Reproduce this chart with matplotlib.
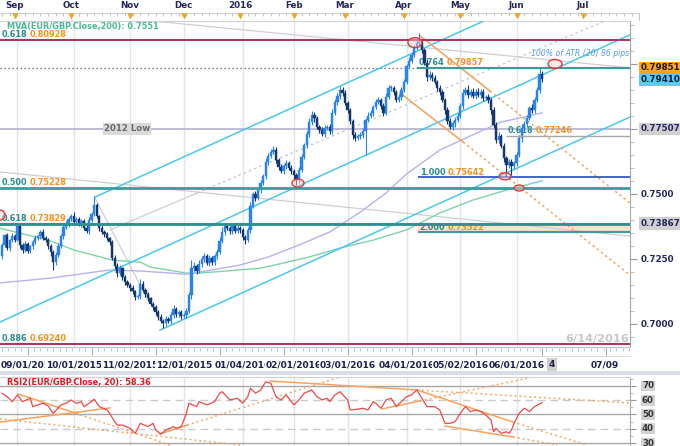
import matplotlib
matplotlib.use("Agg")
import matplotlib.pyplot as plt
from matplotlib.patches import Ellipse, Rectangle
from matplotlib.ticker import MultipleLocator, NullFormatter

plt.rcParams['font.family'] = ['DejaVu Sans']

# ---------------- data (daily EUR/GBP) ----------------
first_open = 0.7262
closes = [
    0.7304, 0.7342, 0.7292, 0.7323, 0.7338, 0.7323, 0.7377, 0.7304, 0.7285, 0.7308,
    0.7281, 0.7300, 0.7315, 0.7331, 0.7338, 0.7354, 0.7331, 0.7323, 0.7300, 0.7277,
    0.7238, 0.7265, 0.7300, 0.7338, 0.7373, 0.7385, 0.7404, 0.7415, 0.7392, 0.7404,
    0.7385, 0.7396, 0.7369, 0.7358, 0.7400, 0.7423, 0.7458, 0.7415, 0.7369, 0.7354,
    0.7346, 0.7331, 0.7315, 0.7254, 0.7223, 0.7196, 0.7215, 0.7181, 0.7162, 0.7150,
    0.7138, 0.7127, 0.7104, 0.7108, 0.7154, 0.7131, 0.7115, 0.7100, 0.7077, 0.7065,
    0.7046, 0.7027, 0.7012, 0.7004, 0.7019, 0.7012, 0.7035, 0.7058, 0.7038, 0.7046,
    0.7031, 0.7035, 0.7050, 0.7112, 0.7215, 0.7223, 0.7204, 0.7231, 0.7250, 0.7262,
    0.7235, 0.7254, 0.7238, 0.7262, 0.7277, 0.7319, 0.7354, 0.7377, 0.7369, 0.7358,
    0.7377, 0.7358, 0.7369, 0.7362, 0.7335, 0.7323, 0.7362, 0.7454, 0.7500, 0.7485,
    0.7515, 0.7542, 0.7569, 0.7623, 0.7646, 0.7662, 0.7669, 0.7631, 0.7604, 0.7588,
    0.7608, 0.7619, 0.7600, 0.7588, 0.7573, 0.7554, 0.7592, 0.7642, 0.7688, 0.7731,
    0.7777, 0.7804, 0.7792, 0.7758, 0.7746, 0.7731, 0.7754, 0.7758, 0.7742, 0.7812,
    0.7854, 0.7877, 0.7900, 0.7888, 0.7850, 0.7823, 0.7781, 0.7727, 0.7715, 0.7723,
    0.7727, 0.7742, 0.7785, 0.7800, 0.7812, 0.7835, 0.7854, 0.7862, 0.7838, 0.7812,
    0.7873, 0.7908, 0.7908, 0.7892, 0.7862, 0.7873, 0.7900, 0.7931, 0.7992, 0.8012,
    0.8035, 0.8062, 0.8081, 0.8085, 0.8054, 0.8004, 0.7950, 0.7958, 0.7946, 0.7931,
    0.7908, 0.7892, 0.7862, 0.7823, 0.7781, 0.7758, 0.7773, 0.7785, 0.7800, 0.7838,
    0.7888, 0.7900, 0.7881, 0.7892, 0.7877, 0.7892, 0.7881, 0.7892, 0.7869, 0.7873,
    0.7862, 0.7823, 0.7765, 0.7708, 0.7723, 0.7685, 0.7638, 0.7612, 0.7623, 0.7608,
    0.7619, 0.7650, 0.7715, 0.7754, 0.7769, 0.7792, 0.7831, 0.7823, 0.7862, 0.7900,
    0.7962, 0.7941,
]
wick_up_pips = [
    8, 6, 10, 5, 12, 7, 11, 9, 6, 10, 8, 5, 7, 12, 6, 9, 10, 7, 8, 6,
    9, 12, 10, 7, 6, 11, 8, 10, 14, 6, 9, 8, 7, 12, 10, 9, 34, 8, 6, 10,
    7, 9, 5, 8, 12, 10, 14, 6, 9, 7, 8, 11, 6, 9, 18, 10, 7, 8, 6, 9,
    7, 8, 10, 6, 12, 9, 10, 14, 8, 7, 9, 8, 10, 12, 30, 14, 9, 16, 12, 10,
    8, 12, 9, 7, 10, 14, 18, 10, 12, 9, 11, 8, 10, 9, 8, 7, 10, 14, 8, 12,
    10, 12, 9, 14, 10, 11, 16, 12, 8, 10, 9, 12, 8, 10, 7, 9, 12, 10, 8, 12,
    14, 16, 10, 9, 8, 12, 10, 9, 11, 14, 12, 10, 15, 12, 10, 9, 8, 7, 10, 9,
    10, 12, 8, 14, 10, 9, 12, 10, 8, 11, 14, 12, 10, 9, 8, 10, 11, 12, 9, 14,
    10, 12, 14, 32, 12, 8, 16, 14, 10, 12, 9, 10, 8, 7, 12, 10, 9, 11, 12, 10,
    14, 12, 18, 10, 14, 12, 16, 10, 12, 9, 10, 8, 12, 10, 14, 9, 10, 8, 12, 10,
    9, 12, 10, 14, 12, 10, 8, 14, 12, 10, 23, 10,
]
wick_dn_pips = [
    10, 8, 6, 12, 9, 7, 5, 10, 12, 8, 9, 6, 10, 8, 7, 12, 9, 8, 10, 14,
    30, 10, 8, 7, 9, 6, 10, 8, 7, 12, 9, 10, 8, 6, 10, 8, 7, 9, 12, 8,
    10, 9, 12, 8, 10, 14, 9, 12, 10, 8, 9, 10, 12, 8, 10, 9, 12, 10, 8, 9,
    10, 12, 9, 19, 10, 8, 12, 10, 9, 12, 10, 9, 12, 8, 14, 10, 12, 9, 10, 12,
    8, 10, 12, 9, 10, 8, 7, 10, 9, 12, 10, 8, 9, 12, 10, 14, 8, 10, 9, 12,
    8, 10, 9, 12, 10, 9, 8, 12, 10, 9, 12, 10, 9, 10, 14, 19, 10, 8, 9, 10,
    12, 10, 14, 10, 12, 9, 10, 8, 12, 10, 9, 10, 12, 10, 8, 10, 12, 14, 10, 9,
    10, 12, 92, 10, 9, 12, 10, 8, 10, 14, 10, 9, 12, 10, 8, 10, 12, 9, 10, 8,
    10, 9, 8, 10, 12, 10, 14, 12, 10, 9, 12, 10, 9, 14, 12, 10, 12, 14, 10, 9,
    10, 8, 12, 10, 9, 10, 8, 12, 10, 9, 12, 14, 10, 12, 10, 9, 14, 48, 12, 35,
    12, 10, 9, 14, 10, 12, 9, 10, 12, 10, 10, 12,
]

ma200_idx = [-1, 18, 28, 43, 54, 58, 65, 72, 77, 90, 101, 110, 120, 132, 145, 158, 171, 184, 197, 211]
ma200_val = [0.7369, 0.7323, 0.7285, 0.7246, 0.7238, 0.7219, 0.7208, 0.7196, 0.7196, 0.7206,
             0.7215, 0.7235, 0.7258, 0.7292, 0.7323, 0.7362, 0.7427, 0.7477, 0.7515, 0.7551]
ma100_idx = [-1, 19, 42, 54, 72, 82, 93, 104, 116, 128, 140, 150, 158, 171, 182, 195, 202, 211]
ma100_val = [0.7158, 0.7177, 0.7208, 0.7204, 0.7192, 0.7208, 0.7227, 0.7258, 0.7304, 0.7354,
             0.7431, 0.7504, 0.7577, 0.7669, 0.7719, 0.7777, 0.7792, 0.7812]

rsi_idx = [0, 2, 4, 6, 8, 11, 12, 14, 16, 18, 20, 23, 25, 27, 29, 31, 32, 34, 36, 38,
           41, 42, 44, 45, 47, 50, 52, 54, 57, 59, 60, 62, 64, 67, 68, 70, 72, 73, 76, 77,
           80, 83, 85, 86, 89, 92, 94, 96, 97, 99, 101, 103, 105, 107, 109, 111, 114, 116, 118, 121,
           123, 125, 127, 128, 130, 132, 135, 136, 139, 141, 143, 145, 146, 148, 150, 152, 154, 156, 158, 160,
           162, 164, 166, 169, 171, 173, 175, 177, 179, 181, 183, 185, 187, 189, 191, 192, 193, 195, 197, 198,
           199, 200, 202, 204, 206, 208, 211]
rsi_val = [64.9, 62.5, 59.0, 63.7, 59.0, 61.4, 55.5, 56.7, 57.9, 56.0, 50.8, 56.7, 57.9, 60.2, 57.9, 59.0, 55.5, 57.9, 60.7, 55.5,
           53.2, 50.8, 45.0, 42.6, 42.6, 40.3, 36.8, 43.8, 41.5, 43.8, 39.1, 36.3, 39.1, 41.5, 40.3, 41.5, 50.8, 57.9, 55.5, 59.0,
           56.7, 59.0, 64.9, 66.0, 60.2, 61.4, 57.9, 62.5, 68.4, 64.9, 67.2, 73.0, 71.9, 62.5, 60.2, 63.7, 56.7, 60.2, 64.9, 67.2,
           62.5, 60.2, 61.4, 59.0, 63.7, 66.0, 60.2, 53.2, 53.7, 54.4, 53.2, 59.0, 57.9, 54.4, 60.2, 61.4, 55.5, 59.0, 62.5, 63.7,
           67.2, 61.4, 55.5, 55.5, 53.2, 43.8, 43.8, 45.0, 50.8, 55.5, 52.0, 53.2, 52.0, 49.6, 46.1, 37.9, 40.3, 36.8, 37.9, 36.8,
           39.1, 43.8, 50.8, 54.4, 52.0, 55.5, 58.36]

month_labels = ['Sep', 'Oct', 'Nov', 'Dec', '2016', 'Feb', 'Mar', 'Apr', 'May', 'Jun', 'Jul']
month_pos = [5, 27, 50, 71, 93, 114, 134, 157, 179, 201, 227]
date_labels = ['09/01/2015', '10/01/2015', '11/02/2015', '12/01/2015', '01/04/2016',
               '02/01/2016', '03/01/2016', '04/01/2016', '05/02/2016', '06/01/2016']
date_pos = [6, 28, 50, 71, 94, 114, 135, 158, 179, 201]

fib_full = [('0.618', '0.80928', 0.80928), ('0.500', '0.75228', 0.75228),
            ('0.618', '0.73829', 0.73829), ('0.886', '0.69240', 0.69240)]
fib_ext = [('0.764', '0.79857', 0.79857, 162.1), ('0.618', '0.77246', 0.77246, 196.8),
           ('1.000', '0.75642', 0.75642, 162.5), ('2.000', '0.73522', 0.73522, 162.5)]
low_2012 = 0.77507
last_high = 0.79851
last_close = 0.79410
fib_0738 = 0.73867

# trend lines (index, price)
cyan_lines = [((-0.8, 0.7008), (245.3, 0.8112)),
              ((36.3, 0.7488), (187.5, 0.8162)),
              ((61.7, 0.6977), (245.3, 0.7796))]
grey_lines = [((59.0, 0.8165), (245.3, 0.7985)),
              ((-0.8, 0.7585), (245.3, 0.7338)),
              ((36.3, 0.7485), (57.0, 0.7092)),
              ((42.2, 0.7362), (76.2, 0.7504))]
grey_dotted = [((76.2, 0.7504), (234.8, 0.8162))]
orange_solid = [((163.3, 0.8108), (190.6, 0.7896)), ((155.5, 0.7888), (180.1, 0.7700))]
orange_dash = [((190.6, 0.7896), (245.3, 0.7465)), ((180.1, 0.7700), (245.3, 0.7188))]

rsi_solid = [((6.3, 64.4), (30.5, 49.8)), ((-0.8, 44.7), (42.2, 54.6)), ((61.7, 36.3), (72.3, 42.6)),
             ((104.7, 73.5), (162.1, 67.2)), ((162.1, 67.2), (199.6, 44.7)), ((148.4, 53.9), (163.3, 59.5)),
             ((173.0, 41.9), (199.6, 34.2))]
rsi_dotted = [((30.5, 49.8), (65.6, 28.6)), ((-0.8, 46.8), (93.0, 28.6)), ((72.3, 42.6), (132.0, 76.3)),
              ((162.1, 67.2), (245.3, 58.1)), ((199.6, 44.7), (228.5, 28.6)), ((163.3, 59.5), (207.4, 76.3)),
              ((199.6, 34.2), (216.8, 28.6))]

# ---------------- figure ----------------
W, H = 680, 446
PX = 2.56            # pixels per trading day
X0, X1 = -0.8, 245.3
Y0, Y1 = 0.6912, 0.8165
UP, DN = '#2a84f0', '#143770'
TEAL, ORANGE, NAVY = '#2a8c8c', '#f7901e', '#26265e'

fig = plt.figure(figsize=(W / 100, H / 100), dpi=100)
fig.patch.set_facecolor('white')

ax = fig.add_axes([0, 1 - 347 / H, 630 / W, 326 / H])
ax.set_xlim(X0, X1)
ax.set_ylim(Y0, Y1)
ax.vlines(date_pos, Y0, Y1, color='#e4e4e4', lw=1, zorder=0)

# moving averages
ax.plot(ma200_idx, ma200_val, color='#7fd3a8', lw=1.0, zorder=2)
ax.plot(ma100_idx, ma100_val, color='#b7b2ee', lw=1.0, zorder=2)

# trend lines
for (a, b) in cyan_lines:
    ax.plot([a[0], b[0]], [a[1], b[1]], color='#48c8f2', lw=1.1, zorder=2.6)
for (a, b) in grey_lines:
    ax.plot([a[0], b[0]], [a[1], b[1]], color='#cfcfcf', lw=0.9, zorder=1.5)
for (a, b) in grey_dotted:
    ax.plot([a[0], b[0]], [a[1], b[1]], color='#c4c4c4', lw=0.9, ls=(0, (2, 2.5)), zorder=1.5)
for (a, b) in orange_solid:
    ax.plot([a[0], b[0]], [a[1], b[1]], color='#f5a05a', lw=1.1, zorder=2.6)
for (a, b) in orange_dash:
    ax.plot([a[0], b[0]], [a[1], b[1]], color='#f5a05a', lw=1.1, ls=(0, (1.5, 2)), zorder=2.6)

# level lines
ax.axhline(fib_full[0][2], color='#a83a62', lw=1.5, zorder=4)
ax.axhline(fib_full[3][2], color='#a83a62', lw=1.5, zorder=4)
ax.axhline(low_2012, color='#b8b8d0', lw=1.3, zorder=1.8)
ax.axhline(last_high, color='#707070', lw=0.9, ls=(0, (1.2, 2)), zorder=1.8)
ax.axhline(fib_0738, color='#9a9a9a', lw=0.8, zorder=4)
ax.axhline(fib_full[1][2], color='#3a9c9c', lw=2.0, zorder=4)
ax.axhline(fib_full[2][2], color='#2f8f8f', lw=2.0, zorder=4)
ax.fill_between([fib_ext[3][3], X1], fib_ext[3][2], fib_full[2][2], color='#fde3c8', lw=0, zorder=1.2)
ax.hlines(fib_ext[0][2], fib_ext[0][3], X1, color='#3a9c9c', lw=1.5, zorder=4)
ax.hlines(fib_ext[1][2], fib_ext[1][3], X1, color='#a8a8a8', lw=1.0, zorder=4)
ax.hlines(fib_ext[2][2], fib_ext[2][3], X1, color='#3556cc', lw=1.3, zorder=4)
ax.hlines(fib_ext[3][2], fib_ext[3][3], X1, color='#3a9c9c', lw=1.6, zorder=4)

# candles
n = min(len(closes), len(wick_up_pips), len(wick_dn_pips))
idx = list(range(n))
opens = [first_open] + closes[:n - 1]
tops = [max(o, c) for o, c in zip(opens, closes[:n])]
bots = [min(o, c) for o, c in zip(opens, closes[:n])]
cols = [UP if c >= o else DN for o, c in zip(opens, closes[:n])]
highs = [t + w * 1e-4 for t, w in zip(tops, wick_up_pips)]
lows = [b - w * 1e-4 for b, w in zip(bots, wick_dn_pips)]
ax.vlines(idx, lows, highs, colors=cols, lw=0.8, zorder=3)
ax.bar(idx, [max(t - b, 0.00018) for t, b in zip(tops, bots)], bottom=bots, width=0.9,
       color=cols, edgecolor=cols, linewidth=0.3, zorder=3)

# ellipses
for (cx, cy, wpx, hpx) in [(161.3, 0.8082, 14, 10), (115.6, 0.7542, 12, 8), (196.5, 0.7568, 12, 7),
                           (202.0, 0.7523, 10, 6), (216.0, 0.8000, 14, 9), (-0.8, 0.7419, 10, 10)]:
    ax.add_patch(Ellipse((cx, cy), wpx / PX, hpx / 2600.0, fc=(1, 0.8, 0.8, 0.45), ec='#e03a3a',
                         lw=1.0, zorder=5))

# fib labels
def fib_label(x, y, ratio, value, dy=5.5):
    kw = dict(textcoords='offset pixels', fontsize=5.9, fontweight='bold', va='center', ha='left',
              zorder=2.5, annotation_clip=False)
    ax.annotate(ratio, (x, y), xytext=(1.5, dy), color=TEAL, **kw)
    ax.annotate(value, (x, y), xytext=(29.5, dy), color=ORANGE, **kw)

for r, v, y in fib_full:
    fib_label(X0, y, r, v)
for r, v, y, x in fib_ext:
    fib_label(x, y, r, v, dy=5)

ax.text(7 / 630, (347 - 26) / 326, 'MVA(EUR/GBP.Close,200): 0.7551', transform=ax.transAxes,
        fontsize=5.9, fontweight='bold', color='#44bc96', va='center', ha='left', zorder=6)
ax.text(127 / 630, low_2012, '2012 Low', transform=ax.get_yaxis_transform(), fontsize=6.2,
        fontweight='bold', color='#6a6a6a', ha='center', va='center', zorder=6,
        bbox=dict(boxstyle='square,pad=0.15', fc='#dadada', ec='none'))
ax.text(629 / 630, (347 - 54) / 326, '100% of ATR (20) 86 pips', transform=ax.transAxes,
        fontsize=5.6, style='italic', color='#5a9de0', ha='right', va='center', zorder=6)
ax.text(629 / 630, (347 - 339) / 326, '6/14/2016', transform=ax.transAxes, fontsize=8.2,
        fontweight='bold', color='#c8c8c8', ha='right', va='center', zorder=1)

# right axis
ax.yaxis.set_ticks_position('right')
ax.set_yticks([0.70, 0.725, 0.75, 0.775, 0.80])
ax.yaxis.set_major_formatter(NullFormatter())
ax.yaxis.set_minor_locator(MultipleLocator(0.005))
ax.tick_params(axis='y', which='major', length=5, width=0.8, color='#9a9a9a')
ax.tick_params(axis='y', which='minor', length=3, width=0.6, color='#b4b4b4')
ax.set_xticks([])
ax.spines['left'].set_visible(False)
ax.spines['top'].set_color('#d0d0d0')
ax.spines['bottom'].set_color('#c4c4c4')
ax.spines['right'].set_color('#a8a8a8')

ytr = ax.get_yaxis_transform()
right_labels = [(last_high, '0.79851', '#ffa41c', '#1a1a1a'), (last_close, '0.79410', '#62c8f2', '#1a1a1a'),
                (low_2012, '0.77507', '#d0d0d0', NAVY), (0.75, '0.7500', None, NAVY),
                (fib_0738, '0.73867', '#d0d0d0', NAVY), (0.725, '0.7250', None, NAVY),
                (0.70, '0.7000', None, NAVY)]
for val, txt, bg, tc in right_labels:
    bb = dict(boxstyle='square,pad=0.2', fc=bg, ec='none') if bg else None
    ax.text(641 / 630, val, txt, transform=ytr, ha='left', va='center', fontsize=6.3,
            fontweight='bold', color=tc, bbox=bb, clip_on=False, zorder=7)

# ---------------- top month ruler ----------------
axt = fig.add_axes([0, 1 - 21 / H, 640 / W, 21 / H])
axt.set_xlim(X0, X0 + 640 / PX)
axt.set_ylim(21, 0)
axt.axis('off')
axt.hlines([12.6], X0, X0 + 640 / PX, color='#cccccc', lw=0.8)
axt.vlines([X0 + 640 / PX - 0.3], 12.6, 21, color='#cccccc', lw=0.8)
axt.vlines(list(range(0, 248, 3)), 12.8, 15.8, color='#b8b8b8', lw=0.6)
axt.scatter(month_pos, [15.6] * len(month_pos), marker='v', s=20, color='#f5a31c', zorder=3, lw=0)
for p, lab in zip(month_pos, month_labels):
    axt.text(p, 6.0, lab, ha='center', va='center', fontsize=6.3, fontweight='bold', color=NAVY)

# ---------------- bottom date ruler ----------------
axb = fig.add_axes([0, 1 - 372 / H, 1, 25 / H])
axb.set_xlim(X0, X0 + W / PX)
axb.set_ylim(25, 0)
axb.axis('off')
axb.vlines([k * 2.5 for k in range(0, 99)], 1.0, 4.0, color='#b8b8b8', lw=0.6)
axb.vlines([10, 35, 60, 85, 110, 135, 160, 185, 211, 236], 0.5, 8.0, color='#a8a8a8', lw=0.7)
axb.hlines([8.8], X0, X1, color='#dddddd', lw=0.8)
for k, (p, lab) in enumerate(zip(date_pos, date_labels)):
    axb.text(X0 + 0.1 if k == 0 else p, 17.5, lab, ha='left' if k == 0 else 'center', va='center',
             fontsize=6.5, fontweight='bold', color='#1e1e50',
             bbox=dict(boxstyle='square,pad=0.05', fc='white', ec='none'))
axb.text(214.8, 17.5, '4', ha='center', va='center', fontsize=6.5, fontweight='bold', color='#1e1e50',
         bbox=dict(boxstyle='square,pad=0.2', fc='#d0d0d0', ec='none'))
axb.text(235.5, 17.5, '07/09', ha='center', va='center', fontsize=6.5, fontweight='bold', color='#1e1e50')

# band above RSI
fig.patches.append(Rectangle((0, 1 - 375 / H), 1, 4 / H, transform=fig.transFigure,
                             fc='#d9dee6', ec='none', zorder=0))

# ---------------- RSI panel ----------------
axr = fig.add_axes([0, 0, 630 / W, 69 / H])
axr.set_xlim(X0, X1)
axr.set_ylim(27.9, 76.3)
axr.vlines(date_pos, 27.9, 76.3, color='#e4e4e4', lw=1, zorder=0)
for lv in (70, 50, 30):
    axr.axhline(lv, color='#a8a8a8', lw=1.0, zorder=1)
for lv in (60, 40):
    axr.axhline(lv, color='#cacaca', lw=1.0, ls=(0, (5.5, 3.5)), zorder=1)
for (a, b) in rsi_solid:
    axr.plot([a[0], b[0]], [a[1], b[1]], color='#f7a25e', lw=1.1, zorder=2)
for (a, b) in rsi_dotted:
    axr.plot([a[0], b[0]], [a[1], b[1]], color='#f7a25e', lw=1.1, ls=(0, (1.2, 2)), zorder=2)
axr.plot(rsi_idx, rsi_val, color='#f04848', lw=0.9, zorder=3)
axr.text(7 / 630, (446 - 383) / 69, 'RSI2(EUR/GBP.Close, 20): 58.36', transform=axr.transAxes,
         fontsize=5.9, fontweight='bold', color='#e8141e', ha='left', va='center', zorder=5)
axr.yaxis.set_ticks_position('right')
axr.set_yticks([30, 40, 50, 60, 70])
axr.yaxis.set_major_formatter(NullFormatter())
axr.yaxis.set_minor_locator(MultipleLocator(5))
axr.tick_params(axis='y', which='major', length=4, width=0.8, color='#9a9a9a')
axr.tick_params(axis='y', which='minor', length=2, width=0.6, color='#b4b4b4')
axr.set_xticks([])
axr.spines['left'].set_visible(False)
axr.spines['bottom'].set_visible(False)
axr.spines['top'].set_color('#d0d0d0')
axr.spines['right'].set_color('#a8a8a8')
rtr = axr.get_yaxis_transform()
for lv in (70, 60, 50, 40, 30):
    axr.text(642 / 630, lv, str(lv), transform=rtr, ha='left', va='center', fontsize=6.2,
             fontweight='bold', color='#333333', clip_on=False,
             bbox=dict(boxstyle='square,pad=0.1', fc='#d2d2d2', ec='none'))

fig.savefig('out.png', dpi=100, facecolor='white')
